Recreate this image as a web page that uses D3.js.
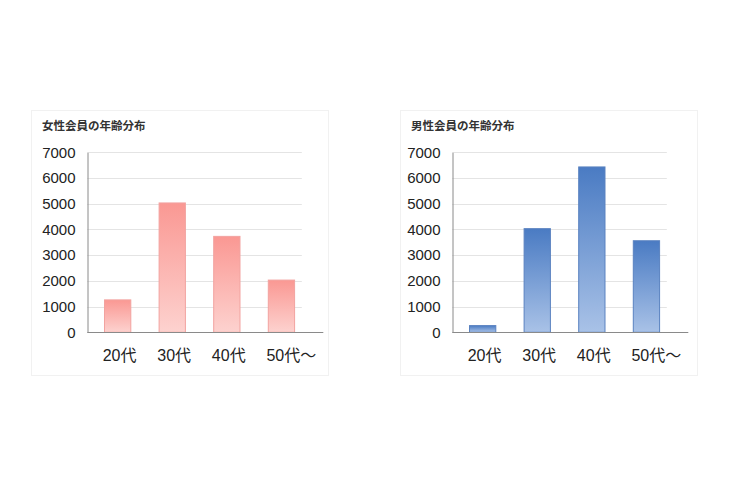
<!DOCTYPE html>
<html><head><meta charset="utf-8">
<script src="https://cdn.jsdelivr.net/npm/d3@7"></script>
<style>
html,body{margin:0;padding:0;background:#fff;}
svg{display:block;}
</style></head>
<body>
<svg id="chart" width="745" height="486"></svg>
<script>
const categories = ["20代", "30代", "40代", "50代～"];
const femaleValues = [1280, 5050, 3750, 2050];
const maleValues = [280, 4050, 6450, 3580];
const yTicks = [0, 1000, 2000, 3000, 4000, 5000, 6000, 7000];
const titles = ["女性会員の年齢分布", "男性会員の年齢分布"];

const svg = d3.select("#chart");
const defs = svg.append("defs");

const panels = [
  {title: titles[0], values: femaleValues, id: "gf", top: "#fa9893", bottom: "#fdd2cf", stroke: "#f2a3a0", px: 31, ox: 87.3},
  {title: titles[1], values: maleValues, id: "gm", top: "#4a7bc3", bottom: "#a9c2e7", stroke: "#5a82c0", px: 400, ox: 452.3}
];

panels.forEach(p => {
  const g = defs.append("linearGradient").attr("id", p.id)
    .attr("x1", 0).attr("y1", 0).attr("x2", 0).attr("y2", 1);
  g.append("stop").attr("offset", "0%").attr("stop-color", p.top);
  g.append("stop").attr("offset", "100%").attr("stop-color", p.bottom);
});

const y = d3.scaleLinear().domain([0, 7000]).range([332.3, 152.3]);

panels.forEach(p => {
  const root = svg.append("g");
  root.append("rect").attr("x", p.px + 0.5).attr("y", 110.5)
    .attr("width", 297).attr("height", 265)
    .attr("fill", "#fff").attr("stroke", "#f1f1f1");

  root.append("text").attr("x", p.px + 11).attr("y", 130)
    .attr("font-family", "'Noto Sans CJK JP', sans-serif")
    .attr("font-size", 11.5).attr("font-weight", "bold").attr("fill", "#333")
    .text(p.title);

  const x = d3.scaleBand().domain(categories)
    .range([p.ox, p.ox + 224.5]).paddingInner(0.5).paddingOuter(0.306);

  // gridlines
  root.append("g").selectAll("line").data(yTicks.filter(t => t > 0)).join("line")
    .attr("x1", p.ox).attr("x2", p.ox + 214.5)
    .attr("y1", d => Math.round(y(d)) + 0.5).attr("y2", d => Math.round(y(d)) + 0.5)
    .attr("stroke", "#e4e4e4").attr("stroke-width", 1);

  // bars
  root.append("g").selectAll("rect").data(p.values).join("rect")
    .attr("x", (d, i) => x(categories[i]) + 0.5)
    .attr("y", d => y(d) + 0.5)
    .attr("width", x.bandwidth() - 1)
    .attr("height", d => y(0) - y(d) - 0.5)
    .attr("fill", `url(#${p.id})`)
    .attr("stroke", p.stroke).attr("stroke-width", 1);

  // y axis
  const ya = d3.axisLeft(y).tickValues(yTicks).tickSize(0).tickPadding(12).tickFormat(d3.format("d"));
  const yg = root.append("g").attr("transform", `translate(${Math.round(p.ox) + 0.5},0)`).call(ya);
  yg.select(".domain").attr("stroke", "#8a8a8a");
  yg.selectAll("text").attr("font-family", "'Liberation Sans', Arial, sans-serif")
    .attr("font-size", 15).attr("fill", "#222");

  // baseline
  root.append("line").attr("x1", p.ox).attr("x2", p.ox + 236)
    .attr("y1", Math.round(y(0)) + 0.5).attr("y2", Math.round(y(0)) + 0.5)
    .attr("stroke", "#8a8a8a").attr("stroke-width", 1);

  // x axis labels
  const xa = d3.axisBottom(x).tickSize(0).tickPadding(0);
  const xg = root.append("g").attr("transform", `translate(0,${y(0)})`).call(xa);
  xg.select(".domain").remove();
  xg.selectAll("text")
    .attr("font-family", "'Liberation Sans', 'Noto Sans CJK JP', sans-serif")
    .attr("font-size", 16).attr("fill", "#222")
    .attr("text-anchor", "start").attr("x", -15).attr("dy", 0).attr("y", 29);
});
</script>
</body></html>
